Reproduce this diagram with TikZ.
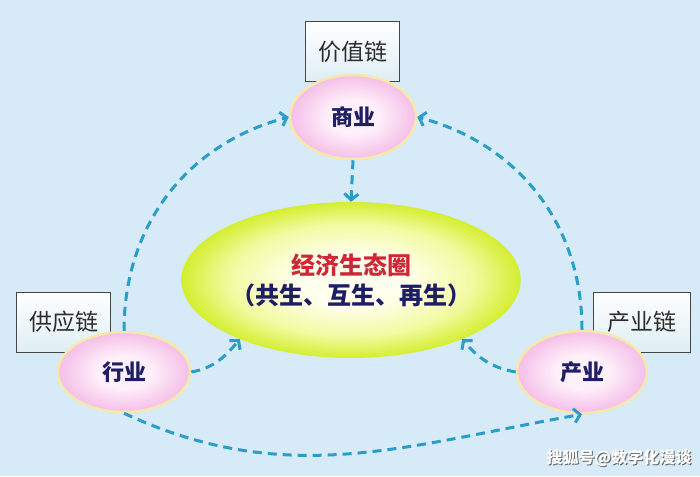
\documentclass[tikz,border=0pt]{standalone}
\usepackage{fontspec}
\setmainfont{Noto Sans CJK SC}
\usetikzlibrary{shapes.geometric,arrows.meta}
\definecolor{bg}{RGB}{214,234,247}
\definecolor{pinkin}{RGB}{254,240,250}
\definecolor{pinkout}{RGB}{245,190,232}
\definecolor{sectorrim}{RGB}{246,232,170}
\definecolor{navy}{RGB}{30,30,100}
\definecolor{boxrim}{RGB}{70,70,70}
\definecolor{boxlow}{RGB}{222,238,244}
\definecolor{boxtext}{RGB}{45,45,45}
\definecolor{ecoin}{RGB}{255,255,238}
\definecolor{ecomid}{RGB}{242,250,160}
\definecolor{ecoout}{RGB}{212,238,48}
\definecolor{ecored}{RGB}{205,40,55}
\definecolor{flowblue}{RGB}{40,158,200}
\pgfdeclareradialshading{ecoglow}{\pgfpoint{0bp}{0bp}}{color(0bp)=(ecoin); color(8bp)=(ecoin); color(18bp)=(ecomid); color(25bp)=(ecoout); color(50bp)=(ecoout)}
\pgfdeclareradialshading{pinkglow}{\pgfpoint{0bp}{0bp}}{color(0bp)=(pinkin); color(10bp)=(pinkin); color(25bp)=(pinkout); color(50bp)=(pinkout)}
\tikzset{
	sector/.style={ellipse, draw=sectorrim, line width=2.5pt, shading=pinkglow, inner sep=0pt, font=\fontsize{22}{24}\selectfont\bfseries, text=navy},
	chainbox/.style={rectangle, draw=boxrim, line width=1pt, top color=white, bottom color=boxlow, minimum width=94pt, minimum height=60pt, inner sep=0pt, font=\fontsize{23}{26}\selectfont, text=boxtext},
	flow/.style={draw=flowblue, line width=3pt, dash pattern=on 9pt off 6pt, -{Straight Barb[length=6pt,width=14pt]}},
}

\begin{document}
\begin{tikzpicture}[x=1pt, y=-1pt]
	\fill [bg] (0,0) rectangle (700,476);
	\useasboundingbox (0,0) rectangle (700,476);
	\node [chainbox] (value) at (352.5,52) {价值链};
	\node [chainbox] (supply) at (63.5,322) {供应链};
	\node [chainbox, minimum width=97pt] (chain) at (641.5,322) {产业链};
	\node [ellipse, shading=ecoglow, minimum width=318pt, minimum height=156pt, inner sep=0pt, font=\fontsize{24}{30}\selectfont\bfseries, align=center] (eco) at (351,280) {\textcolor{ecored}{经济生态圈}\\\textcolor{navy}{（共生、互生、再生）}};
	\node [sector, minimum width=126pt, minimum height=84pt] (trade) at (353,117) {商业};
	\node [sector, minimum width=132pt, minimum height=80pt] (field) at (124,372) {行业};
	\node [sector, minimum width=130pt, minimum height=82pt] (prod) at (582,372) {产业};
	\draw [flow] (field.north) to [out=90, in=195] (trade.west);
	\draw [flow] (prod.north) to [out=90, in=-15] (trade.east);
	\draw [flow] (trade.south) -- (eco.north);
	\draw [flow] (field.east) to [out=10, in=230] (eco.208);
	\draw [flow] (prod.west) to [out=170, in=-50] (eco.332);
	\draw [flow] (field.south) to [out=-25, in=190] (prod.south);
	\node [font=\fontsize{16}{16}\selectfont\bfseries, text=black!60] at (620,459) {搜狐号@数字化漫谈};
	\node [font=\fontsize{16}{16}\selectfont\bfseries, text=white] (mark) at (619,458) {搜狐号@数字化漫谈};
\end{tikzpicture}
\end{document}
